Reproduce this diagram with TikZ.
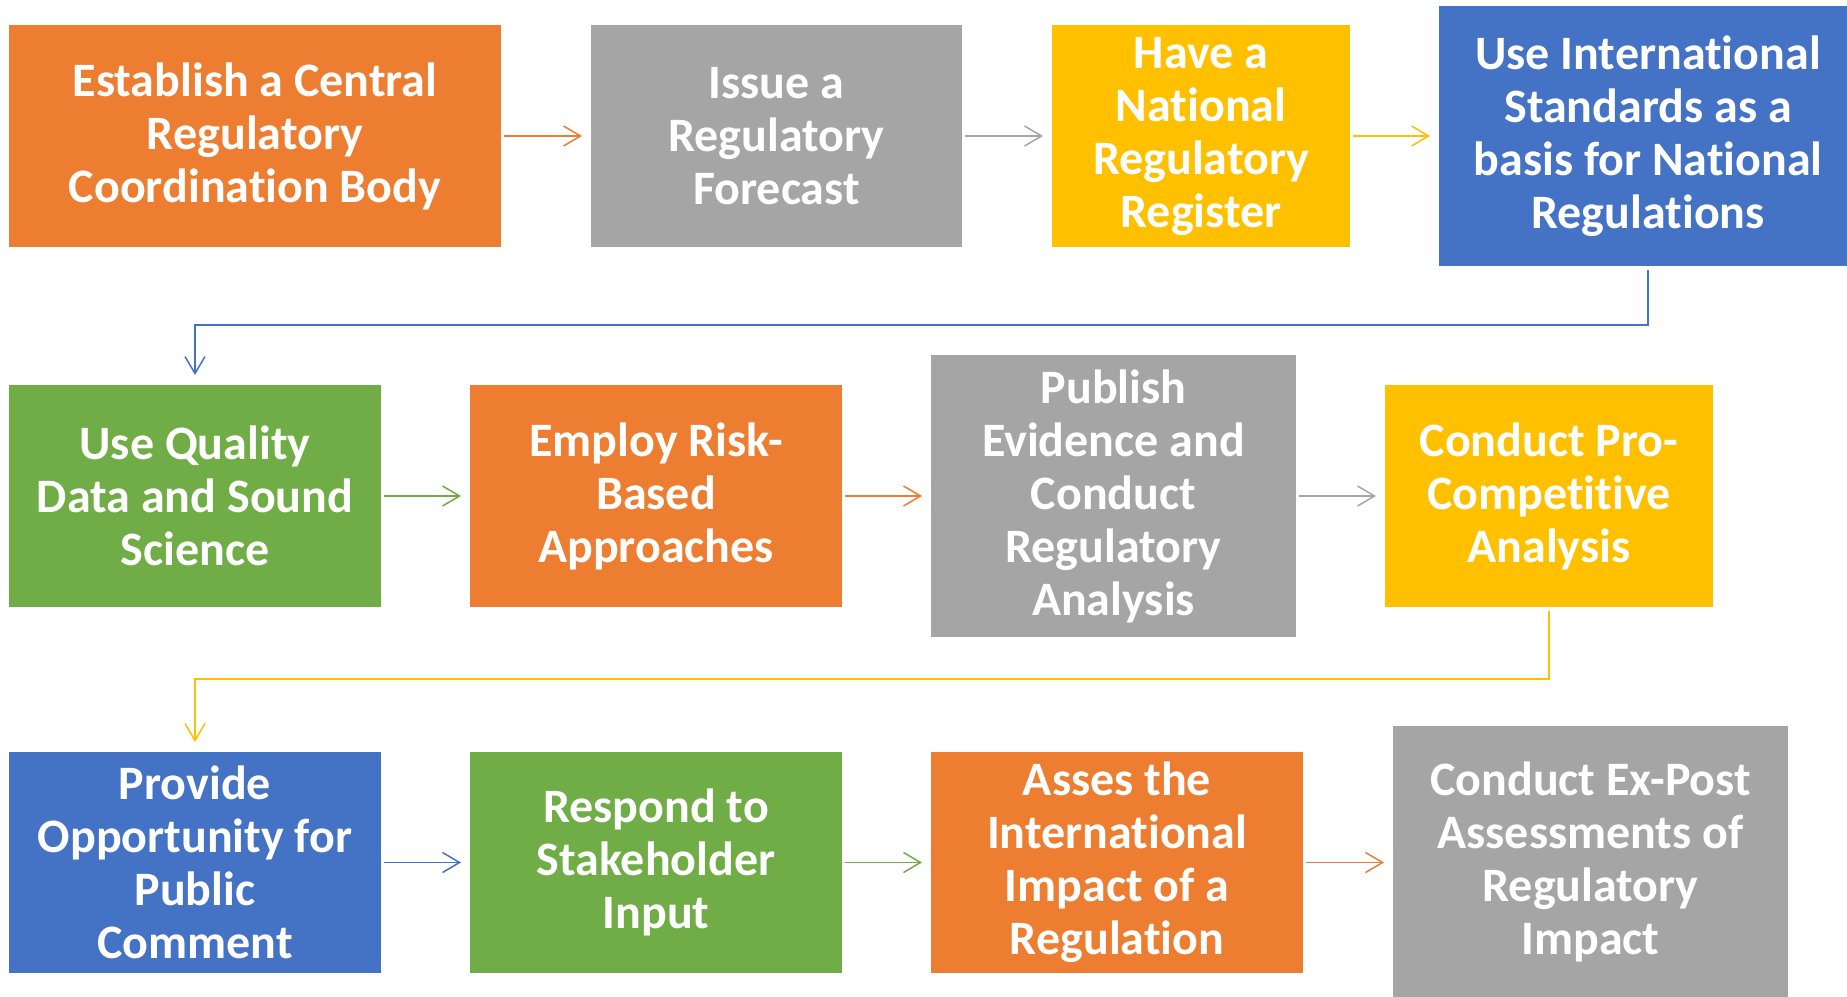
\documentclass[tikz,border=0pt]{standalone}
\usepackage{fontspec}
\setmainfont[Ligatures=NoCommon,RawFeature={-liga;-clig;-calt}]{Carlito}
\usetikzlibrary{arrows.meta}
\definecolor{cOrange}{HTML}{ED7D31}
\definecolor{cGray}{HTML}{A5A5A5}
\definecolor{cYellow}{HTML}{FFC000}
\definecolor{cBlue}{HTML}{4472C4}
\definecolor{cGreen}{HTML}{70AD47}
\begin{document}
\begin{tikzpicture}[x=1pt,y=-1pt,
  stage/.style={anchor=north west, inner sep=0pt, outer sep=0pt, text=white,
    align=center, font=\fontsize{48}{53}\selectfont\bfseries},
  flow/.style={line width=1.5pt, -{Straight Barb[length=17pt,width=20pt]},
    shorten <=3pt, shorten >=9pt}]
\fill[white] (0,0) rectangle (1847,996);
\useasboundingbox (0,0) rectangle (1847,996);

% first row
\node[stage, fill=cOrange, minimum width=492pt, minimum height=222pt] (a1) at (9,25)
  {Establish a Central\\Regulatory\\Coordination Body};
\node[stage, fill=cGray, minimum width=371pt, minimum height=222pt] (a2) at (591,25)
  {Issue a\\Regulatory\\Forecast};
\node[stage, fill=cYellow, minimum width=298pt, minimum height=222pt] (a3) at (1052,25)
  {Have a\\National\\Regulatory\\Register};
\node[stage, fill=cBlue, minimum width=418pt, minimum height=260pt] (a4) at (1439,6)
  {Use International\\Standards as a\\basis for National\\Regulations};

% second row
\node[stage, fill=cGreen, minimum width=372pt, minimum height=222pt] (b1) at (9,385)
  {Use Quality\\Data and Sound\\Science};
\node[stage, fill=cOrange, minimum width=372pt, minimum height=222pt] (b2) at (470,385)
  {Employ Risk-\\Based\\Approaches};
\node[stage, fill=cGray, minimum width=365pt, minimum height=282pt] (b3) at (931,355)
  {Publish\\Evidence and\\Conduct\\Regulatory\\Analysis};
\node[stage, fill=cYellow, minimum width=328pt, minimum height=222pt] (b4) at (1385,385)
  {Conduct Pro-\\Competitive\\Analysis};

% third row
\node[stage, fill=cBlue, minimum width=372pt, minimum height=221pt] (c1) at (9,752)
  {Provide\\Opportunity for\\Public\\Comment};
\node[stage, fill=cGreen, minimum width=372pt, minimum height=221pt] (c2) at (470,752)
  {Respond to\\Stakeholder\\Input};
\node[stage, fill=cOrange, minimum width=372pt, minimum height=221pt] (c3) at (931,752)
  {Asses the\\International\\Impact of a\\Regulation};
\node[stage, fill=cGray, minimum width=395pt, minimum height=272pt] (c4) at (1393,726)
  {Conduct Ex-Post\\Assessments of\\Regulatory\\Impact};

% connectors within rows
\draw[flow, cOrange] (a1) -- (a2);
\draw[flow, cGray] (a2) -- (a3);
\draw[flow, cYellow] (a3.east) -- (a3.east -| a4.west);
\draw[flow, cGreen] (b1) -- (b2);
\draw[flow, cOrange] (b2) -- (b3);
\draw[flow, cGray] (b3.east |- b4.west) -- (b4.west);
\draw[flow, cBlue] (c1) -- (c2);
\draw[flow, cGreen] (c2) -- (c3);
\draw[flow, cOrange] (c3.east) -- (c3.east -| c4.west);

% connectors between rows
\coordinate (turn1) at (0,325);
\coordinate (turn2) at (0,679);
\draw[flow, cBlue, shorten <=4pt, shorten >=10pt] (a4.south) -- (a4.south |- turn1) -| (b1.north);
\draw[flow, cYellow, shorten <=4pt, shorten >=10pt] (b4.south) -- (b4.south |- turn2) -| (c1.north);
\end{tikzpicture}
\end{document}
